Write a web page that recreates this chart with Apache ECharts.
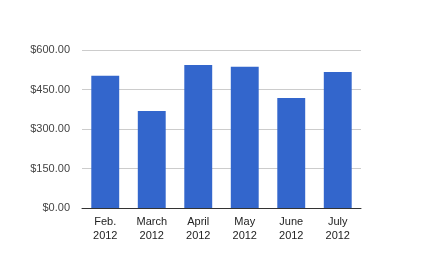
<!DOCTYPE html>
<html><head><meta charset="utf-8">
<script src="https://cdn.jsdelivr.net/npm/echarts@6/dist/echarts.min.js"></script>
<style>html,body{margin:0;padding:0;background:#fff}#c{width:442px;height:258px}</style>
</head><body><div id="c"></div>
<script>
var categories = ['Feb.\n2012', 'March\n2012', 'April\n2012', 'May\n2012', 'June\n2012', 'July\n2012'];
var values = [502, 368, 543, 536, 418, 516];
var yTicks = [0, 150, 300, 450, 600];

var chart = echarts.init(document.getElementById('c'), null, {renderer: 'canvas'});
chart.setOption({
  animation: false,
  grid: {left: 82, right: 81, top: 50, bottom: 50, containLabel: false},
  xAxis: {
    type: 'category',
    data: categories,
    axisTick: {show: false},
    axisLine: {lineStyle: {color: '#333', width: 1}},
    axisLabel: {color: '#222', fontFamily: 'Liberation Sans, Arial', fontSize: 11, lineHeight: 14, margin: 7}
  },
  yAxis: {
    type: 'value',
    min: yTicks[0], max: yTicks[yTicks.length - 1], interval: 150,
    axisLine: {show: false},
    axisTick: {show: false},
    splitLine: {lineStyle: {color: '#ccc', width: 1}},
    axisLabel: {color: '#444', fontFamily: 'Liberation Sans, Arial', fontSize: 11, margin: 12,
      formatter: function (v) { return '$' + v.toFixed(2); }}
  },
  series: [{
    type: 'bar',
    data: values,
    barWidth: '60%',
    itemStyle: {color: '#3366cc'}
  }]
});
</script></body></html>
